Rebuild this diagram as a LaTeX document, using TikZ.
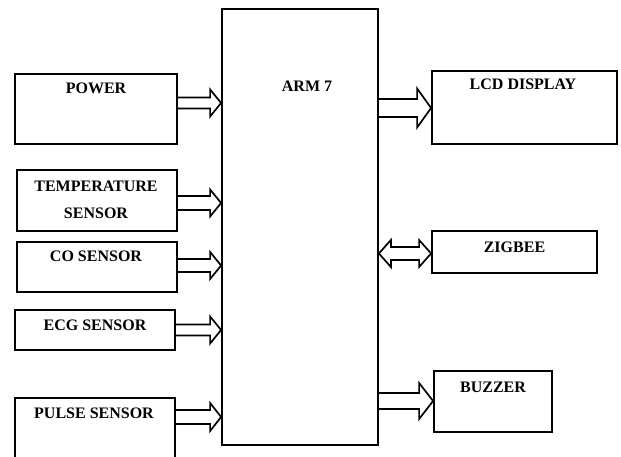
\documentclass[tikz,border=0pt]{standalone}
\usepackage{fontspec}
\setmainfont{Liberation Serif}
\usetikzlibrary{calc}
\tikzset{
  blk/.style={draw=black, line width=1.8pt, rectangle, inner sep=0pt, fill=white},
  lbl/.style={font=\fontsize{16}{27}\selectfont\bfseries, align=center, inner sep=0pt},
  conn/.style={draw=black, line width=1.7pt, line join=miter},
}
% #1 start anchor, #2 tip anchor, #3 Y, #4 shaft half width, #5 head half width, #6 head length
\newcommand\hollowarrow[6]{%
  \draw[conn] let \p1=(#1), \p2=(#2) in
    (\x1,#3+#4) -- (\x2-#6pt,#3+#4) -- (\x2-#6pt,#3+#5) -- (\x2,#3)
    -- (\x2-#6pt,#3-#5) -- (\x2-#6pt,#3-#4) -- (\x1,#3-#4);}
\newcommand\hollowdblarrow[6]{%
  \draw[conn] let \p1=(#1), \p2=(#2) in
    (\x1,#3) -- (\x1+#6pt,#3+#5) -- (\x1+#6pt,#3+#4) -- (\x2-#6pt,#3+#4)
    -- (\x2-#6pt,#3+#5) -- (\x2,#3) -- (\x2-#6pt,#3-#5) -- (\x2-#6pt,#3-#4)
    -- (\x1+#6pt,#3-#4) -- (\x1+#6pt,#3-#5) -- cycle;}
\begin{document}
\begin{tikzpicture}[x=1pt,y=1pt]
\useasboundingbox[fill=white] (0,0) rectangle (621,457);
% boxes
\node[blk, minimum width=156pt, minimum height=436pt] (arm) at (300,230) {};
\node[blk, minimum width=162pt, minimum height=70pt] (power) at (96,348) {};
\node[blk, minimum width=160pt, minimum height=61pt] (temp) at (97,256.5) {};
\node[blk, minimum width=160pt, minimum height=50pt] (co) at (97,190) {};
\node[blk, minimum width=160pt, minimum height=40pt] (ecg) at (95,127) {};
\node[blk, minimum width=160pt, minimum height=64pt] (pulse) at (95,27) {};
\node[blk, minimum width=185pt, minimum height=73pt] (lcd) at (524.5,349.5) {};
\node[blk, minimum width=165pt, minimum height=42pt] (zig) at (514.5,205) {};
\node[blk, minimum width=118pt, minimum height=61pt] (buz) at (493,55.5) {};
% texts
\node[lbl] (armT) at (307,371) {ARM 7};
\node[lbl] (powerT) at (96,369) {POWER};
\node[lbl] (tempT) at (96,257.5) {TEMPERATURE\\SENSOR};
\node[lbl] (coT) at (96,201) {CO SENSOR};
\node[lbl] (ecgT) at (95,132) {ECG SENSOR};
\node[lbl] (pulseT) at (94,44) {PULSE SENSOR};
\node[lbl] (lcdT) at (523,373) {LCD DISPLAY};
\node[lbl] (zigT) at (514.5,210) {ZIGBEE};
\node[lbl] (buzT) at (493,70) {BUZZER};
% connectors
\hollowarrow{power.east}{arm.west}{354}{5.5}{13.5}{11}
\hollowarrow{temp.east}{arm.west}{254}{7}{13.5}{11}
\hollowarrow{co.east}{arm.west}{191.5}{6.5}{13.5}{11}
\hollowarrow{ecg.east}{arm.west}{127}{5.5}{13.5}{11}
\hollowarrow{pulse.east}{arm.west}{40}{7}{14}{11}
\hollowarrow{arm.east}{lcd.west}{349}{9}{19.5}{14}
\hollowdblarrow{arm.east}{zig.west}{203.5}{6.5}{13.5}{12}
\hollowarrow{arm.east}{buz.west}{56}{8}{18}{14}
\end{tikzpicture}
\end{document}
